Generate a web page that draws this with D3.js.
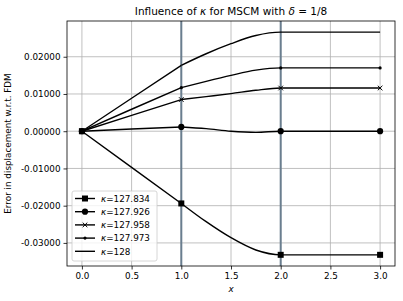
<!DOCTYPE html>
<html lang="en">
<head>
<meta charset="utf-8">
<script src="https://cdnjs.cloudflare.com/ajax/libs/d3/7.8.5/d3.min.js"></script>
<style>
  body { margin: 0; background: #fff; }
  svg { font-family: "DejaVu Sans", sans-serif; }
</style>
</head>
<body>
<svg id="chart"></svg>
<script>
var width = 403, height = 301;
var margin = {top: 21, right: 8, bottom: 35, left: 67};

// sample positions along the beam
var xs = [0, 0.5, 1, 1.25, 1.5, 1.75, 2, 3];
// values, one array per kappa
var k127834 = [0, -0.0097, -0.0194, -0.0243, -0.0286, -0.0319, -0.0332, -0.0332];
var k127926 = [0, 0.0006, 0.00115, 0.0007, 0.0000, -0.0003, 0.0000, 0.0000];
var k127958 = [0, 0.00425, 0.0085, 0.0093, 0.0101, 0.0110, 0.0116, 0.0116];
var k127973 = [0, 0.0059, 0.0117, 0.0134, 0.0150, 0.0164, 0.0170, 0.0170];
var k128    = [0, 0.00885, 0.0177, 0.0208, 0.0235, 0.0257, 0.0266, 0.0266];
var labels = ["127.834", "127.926", "127.958", "127.973", "128"];
var markers = ["square", "circle", "x", "dot", "none"];
var markX = [0, 1, 2, 3];
var vlines = [1, 2];
var xTicks = [0, 0.5, 1, 1.5, 2, 2.5, 3];
var yTicks = [-0.03, -0.02, -0.01, 0, 0.01, 0.02];

var allSeries = [k127834, k127926, k127958, k127973, k128];

var svg = d3.select("#chart").attr("width", width).attr("height", height);

var x = d3.scaleLinear().domain([-0.15, 3.15]).range([margin.left, width - margin.right]);
var y = d3.scaleLinear().domain([-0.0362, 0.0296]).range([height - margin.bottom, margin.top]);

// grid
svg.append("g").selectAll("line").data(xTicks).enter().append("line")
  .attr("x1", d => x(d)).attr("x2", d => x(d))
  .attr("y1", margin.top).attr("y2", height - margin.bottom)
  .attr("stroke", "#b0b0b0").attr("stroke-width", 0.8);
svg.append("g").selectAll("line").data(yTicks).enter().append("line")
  .attr("x1", margin.left).attr("x2", width - margin.right)
  .attr("y1", d => y(d)).attr("y2", d => y(d))
  .attr("stroke", "#b0b0b0").attr("stroke-width", 0.8);

// vertical markers at x = 1 and 2
svg.append("g").selectAll("line").data(vlines).enter().append("line")
  .attr("x1", d => x(d)).attr("x2", d => x(d))
  .attr("y1", margin.top).attr("y2", height - margin.bottom)
  .attr("stroke", "#6a7e8f").attr("stroke-width", 2);

var straight = d3.line().x(d => x(d[0])).y(d => y(d[1]));
var smooth = d3.line().x(d => x(d[0])).y(d => y(d[1])).curve(d3.curveMonotoneX);

function drawMarker(g, type, cx, cy) {
  if (type == "square") {
    g.append("rect").attr("x", cx - 3).attr("y", cy - 3)
      .attr("width", 6).attr("height", 6).attr("fill", "#000");
  } else if (type == "circle") {
    g.append("circle").attr("cx", cx).attr("cy", cy).attr("r", 3.1).attr("fill", "#000");
  } else if (type == "x") {
    var r = 2.3;
    g.append("path").attr("d", "M" + (cx - r) + "," + (cy - r) + "L" + (cx + r) + "," + (cy + r) +
      "M" + (cx - r) + "," + (cy + r) + "L" + (cx + r) + "," + (cy - r))
      .attr("stroke", "#000").attr("stroke-width", 1);
  } else if (type == "dot") {
    g.append("circle").attr("cx", cx).attr("cy", cy).attr("r", 1.6).attr("fill", "#000");
  }
}

var plot = svg.append("g");
allSeries.forEach(function(vals, i) {
  var pts = xs.map((v, j) => [v, vals[j]]);
  plot.append("path").datum(pts.filter(p => p[0] <= 1)).attr("d", straight)
    .attr("fill", "none").attr("stroke", "#000").attr("stroke-width", 1.4);
  plot.append("path").datum(pts.filter(p => p[0] >= 1)).attr("d", smooth)
    .attr("fill", "none").attr("stroke", "#000").attr("stroke-width", 1.4);
  markX.forEach(function(mx) {
    var j = xs.indexOf(mx);
    drawMarker(plot, markers[i], x(mx), y(vals[j]));
  });
});

// axes
var xAxis = svg.append("g").attr("transform", "translate(0," + (height - margin.bottom) + ")")
  .call(d3.axisBottom(x).tickValues(xTicks).tickFormat(d3.format(".1f")).tickSize(3.5).tickPadding(3));
var yAxis = svg.append("g").attr("transform", "translate(" + margin.left + ",0)")
  .call(d3.axisLeft(y).tickValues(yTicks).tickFormat(d => d3.format(".5f")(d).replace("−", "-")).tickSize(3.5).tickPadding(3));
[xAxis, yAxis].forEach(function(a) {
  a.select(".domain").remove();
  a.selectAll("text").attr("font-size", 8.8).attr("fill", "#000").attr("font-family", "DejaVu Sans");
  a.selectAll("line").attr("stroke", "#000").attr("stroke-width", 0.8);
});

// frame
svg.append("rect").attr("x", margin.left).attr("y", margin.top)
  .attr("width", width - margin.left - margin.right)
  .attr("height", height - margin.top - margin.bottom)
  .attr("fill", "none").attr("stroke", "#000").attr("stroke-width", 0.8);

// title and labels
var title = svg.append("text").attr("x", (margin.left + width - margin.right) / 2).attr("y", 15)
  .attr("text-anchor", "middle").attr("font-size", 10.5);
title.append("tspan").text("Influence of ");
title.append("tspan").attr("font-style", "italic").text("κ");
title.append("tspan").text(" for MSCM with ");
title.append("tspan").attr("font-style", "italic").text("δ");
title.append("tspan").text(" = 1/8");

svg.append("text").attr("x", (margin.left + width - margin.right) / 2).attr("y", 292)
  .attr("text-anchor", "middle").attr("font-size", 8.8).attr("font-style", "italic").text("x");

svg.append("text").attr("transform", "translate(11," + ((margin.top + height - margin.bottom) / 2) + ") rotate(-90)")
  .attr("text-anchor", "middle").attr("font-size", 8.8).text("Error in displacement w.r.t. FDM");

// legend
var leg = svg.append("g").attr("transform", "translate(72,191)");
leg.append("rect").attr("width", 85).attr("height", 70).attr("rx", 2)
  .attr("fill", "#fff").attr("fill-opacity", 0.8).attr("stroke", "#ccc").attr("stroke-width", 0.8);
labels.forEach(function(lab, i) {
  var ly = 7.5 + i * 13.2;
  leg.append("line").attr("x1", 3).attr("x2", 23).attr("y1", ly).attr("y2", ly)
    .attr("stroke", "#000").attr("stroke-width", 1.4);
  drawMarker(leg, markers[i], 13, ly);
  var t = leg.append("text").attr("x", 29).attr("y", ly + 3.2).attr("font-size", 8.8);
  t.append("tspan").attr("font-style", "italic").text("κ");
  t.append("tspan").text("=" + lab);
});
</script>
</body>
</html>
